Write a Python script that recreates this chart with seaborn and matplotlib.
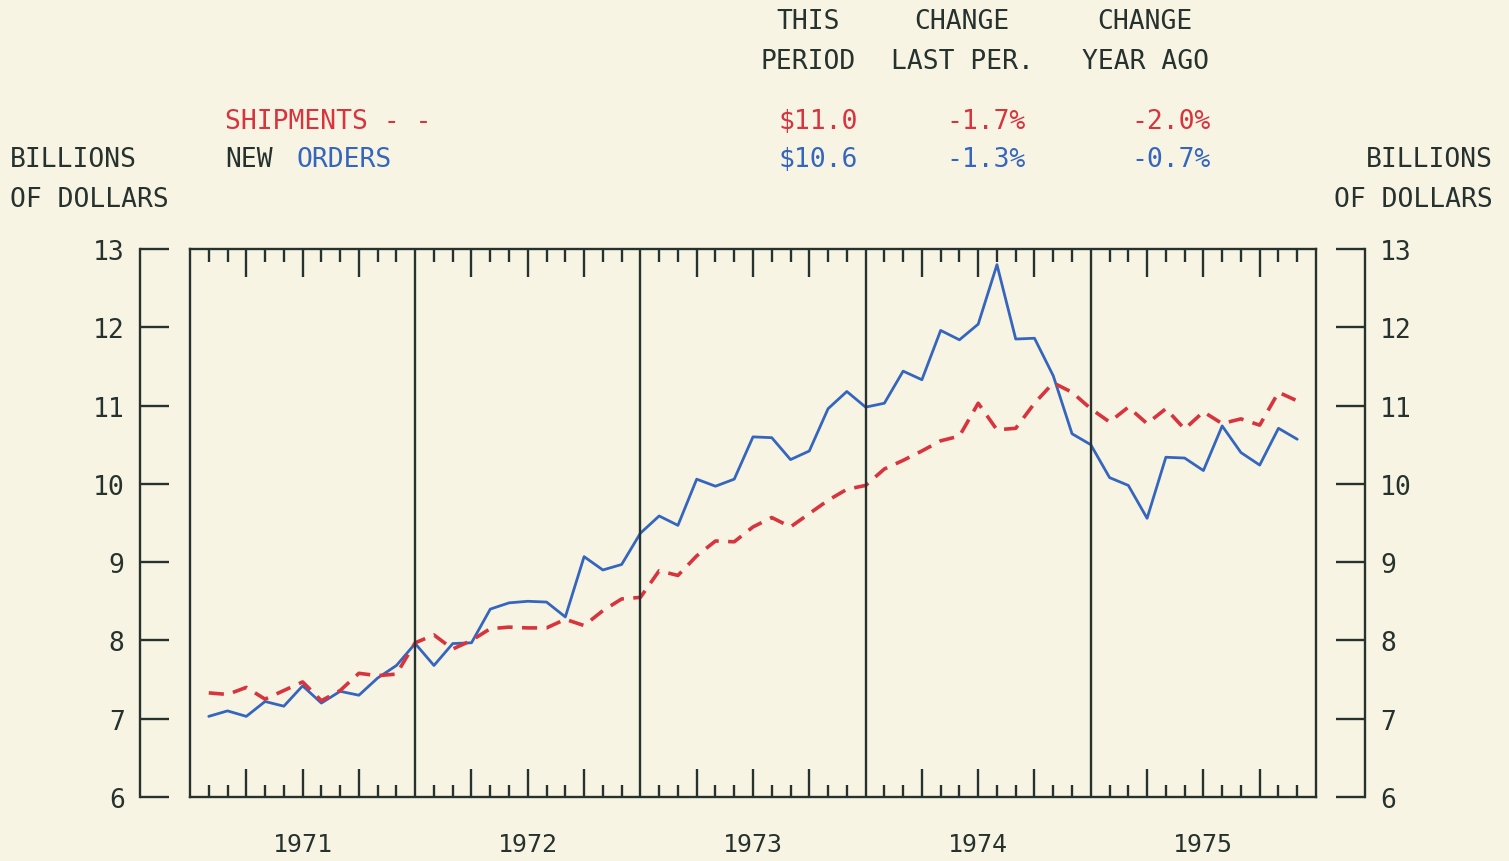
import numpy as np
import pandas as pd
import matplotlib
matplotlib.use("Agg")
import matplotlib.pyplot as plt
import seaborn as sns

# ---------------- data ----------------
years = [1971, 1972, 1973, 1974, 1975]
year_labels = ["1971", "1972", "1973", "1974", "1975"]
y_ticks = [6, 7, 8, 9, 10, 11, 12, 13]

shipments = [
    7.33, 7.31, 7.40, 7.25, 7.36, 7.47, 7.23, 7.36, 7.58, 7.55, 7.57, 7.97,
    8.07, 7.89, 8.00, 8.15, 8.17, 8.16, 8.16, 8.27, 8.19, 8.38, 8.53, 8.55,
    8.89, 8.83, 9.08, 9.27, 9.26, 9.45, 9.57, 9.45, 9.62, 9.79, 9.93, 9.98,
    10.19, 10.30, 10.42, 10.55, 10.61, 11.03, 10.69, 10.71, 11.03, 11.29, 11.17, 10.96,
    10.79, 10.98, 10.77, 10.96, 10.70, 10.92, 10.77, 10.83, 10.75, 11.17, 11.06,
]
new_orders = [
    7.03, 7.10, 7.03, 7.22, 7.16, 7.42, 7.20, 7.35, 7.30, 7.52, 7.68, 7.96,
    7.68, 7.96, 7.97, 8.40, 8.48, 8.50, 8.49, 8.30, 9.07, 8.90, 8.97, 9.37,
    9.59, 9.47, 10.06, 9.97, 10.06, 10.60, 10.59, 10.31, 10.42, 10.96, 11.18, 10.98,
    11.03, 11.44, 11.33, 11.96, 11.84, 12.04, 12.80, 11.85, 11.86, 11.38, 10.64, 10.50,
    10.08, 9.98, 9.56, 10.34, 10.33, 10.17, 10.74, 10.40, 10.24, 10.71, 10.57,
]
# month index (1 = Jan 1971), plotted at month end
month_index = list(range(1, len(new_orders) + 1))

header_cols = ["THIS\nPERIOD", "CHANGE\nLAST PER.", "CHANGE\nYEAR AGO"]
ship_stats = ["$11.0", "-1.7%", "-2.0%"]
order_stats = ["$10.6", "-1.3%", "-0.7%"]

# ---------------- style ----------------
BG = "#F8F4E4"
INK = "#26322E"
RED = "#D8343E"
BLUE = "#3566BE"
FONT = "DejaVu Sans Mono"
FS = 19

sns.set_theme(style="white")
plt.rcParams["font.family"] = [FONT, "DejaVu Sans"]

df = pd.DataFrame({
    "t": [1971 + m / 12 for m in month_index],
    "Shipments": shipments,
    "New orders": new_orders,
})

W, H = 1509, 862
fig = plt.figure(figsize=(W / 100, H / 100), dpi=100, facecolor=BG)
L, R, T, B = 190, 1316, 250, 798
ax = fig.add_axes([L / W, 1 - B / H, (R - L) / W, (B - T) / H])
ax.set_facecolor(BG)

sns.lineplot(data=df, x="t", y="New orders", ax=ax, color=BLUE, linewidth=2.0)
sns.lineplot(data=df, x="t", y="Shipments", ax=ax, color=RED, linewidth=2.6,
             linestyle=(0, (4.2, 2.6)))

ax.set_xlim(1971, 1976)
ax.set_ylim(6, 13)
ax.set_xlabel("")
ax.set_ylabel("")

for s in ax.spines.values():
    s.set_visible(True)
    s.set_color(INK)
    s.set_linewidth(1.7)

for yr in years[1:]:
    ax.axvline(yr, color=INK, linewidth=1.7)

# x ticks: quarters major (long), months minor (short), labels at mid-year
quarters = [y + q / 4 for y in years for q in range(1, 4)]
months = [y + m / 12 for y in years for m in range(1, 12) if m % 3 != 0]
ax.set_xticks(quarters)
ax.set_xticklabels([year_labels[i // 3] if i % 3 == 1 else "" for i in range(len(quarters))])
ax.set_xticks(months, minor=True)
ax.tick_params(axis="x", which="major", direction="in", length=20, width=1.7,
               color=INK, top=True, bottom=True, pad=25, labelsize=18, labelcolor=INK)
ax.tick_params(axis="x", which="minor", direction="in", length=9, width=1.7,
               color=INK, top=True, bottom=True)
ax.tick_params(axis="y", left=False, right=False, labelleft=False)
ax.grid(False)

# separate value axes on both sides
left_loc = (140 - L) / (R - L)
right_loc = (1365 - L) / (R - L)
for loc in (left_loc, right_loc):
    sec = ax.secondary_yaxis(loc)
    sec.set_yticks(y_ticks)
    sec.set_yticklabels([str(v) for v in y_ticks])
    sec.tick_params(direction="in", length=21, width=1.7, color=INK,
                    labelsize=FS, labelcolor=INK, pad=11)
    for s in sec.spines.values():
        s.set_color(INK)
        s.set_linewidth(1.7)

# ---------------- header texts ----------------
def ft(x, y, s, **kw):
    kw.setdefault("color", INK)
    kw.setdefault("fontsize", FS)
    kw.setdefault("va", "center")
    fig.text(x / W, 1 - y / H, s, family=FONT, **kw)

col_centers = [808, 962, 1145]
for cx, txt in zip(col_centers, header_cols):
    top, bot = txt.split("\n")
    ft(cx, 22, top, ha="center")
    ft(cx, 62, bot, ha="center")

col_rights = [858, 1026, 1211]
for cx, s in zip(col_rights, ship_stats):
    ft(cx, 122, s, ha="right", color=RED)
for cx, s in zip(col_rights, order_stats):
    ft(cx, 160, s, ha="right", color=BLUE)

ft(225, 122, "SHIPMENTS - -", ha="left", color=RED)
ft(225, 160, "NEW", ha="left")
ft(297, 160, "ORDERS", ha="left", color=BLUE)

ft(10, 160, "BILLIONS", ha="left")
ft(10, 200, "OF DOLLARS", ha="left")
ft(1493, 160, "BILLIONS", ha="right")
ft(1493, 200, "OF DOLLARS", ha="right")

fig.savefig("out.png", dpi=100, facecolor=BG)
